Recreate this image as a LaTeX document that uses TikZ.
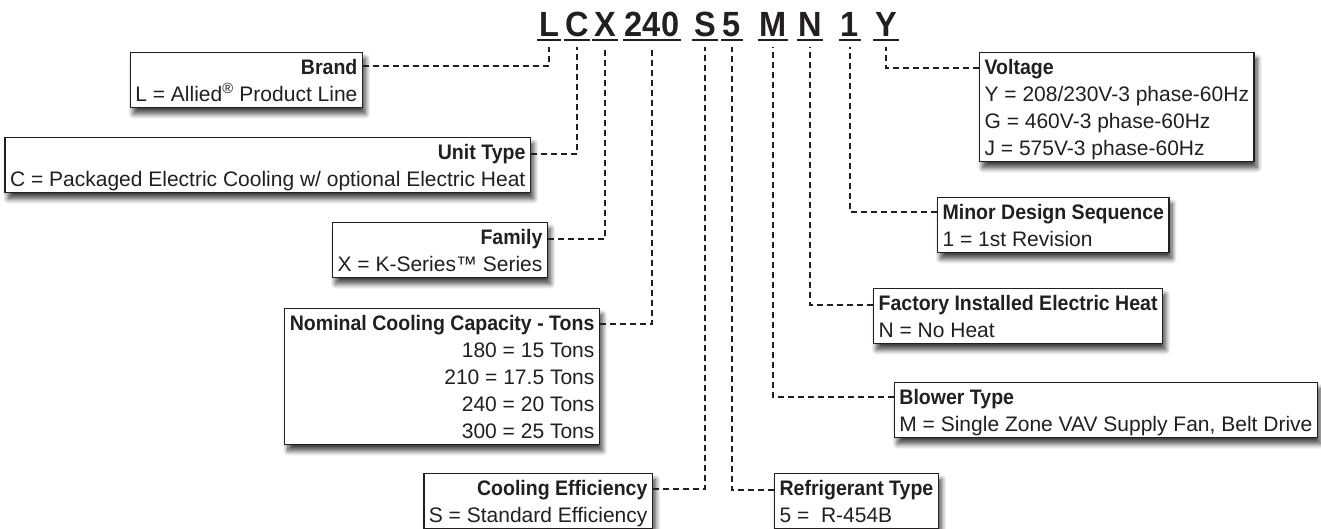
\documentclass[tikz,border=0pt]{standalone}
\usepackage{fontspec}
\setmainfont{Liberation Sans}
\newfontfamily\headfont{Liberation Sans}[FakeStretch=0.93]
\usetikzlibrary{shadows.blur}
\definecolor{ink}{HTML}{231F20}
\newcommand{\ttl}[1]{{\headfont\bfseries #1}}
\newcommand{\lastln}[1]{\raisebox{0pt}[\height][0pt]{#1}}

\begin{document}
\begin{tikzpicture}[x=1pt, y=-1pt,
    code/.style={font=\headfont\bfseries\fontsize{35}{35}\selectfont, text=ink, anchor=base, inner xsep=1.5pt},
    uline/.style={ink, line width=2pt},
    spec/.style={draw=ink, line width=1.2pt, fill=white, text=ink, font=\fontsize{21}{27}\selectfont,
        inner xsep=5pt, inner ysep=6.5pt,
        blur shadow={shadow xshift=3pt, shadow yshift=-6pt, shadow blur steps=10, shadow blur radius=5pt, shadow opacity=75}},
    specL/.style={spec, align=right, anchor=north east},
    specR/.style={spec, align=left, anchor=north west},
    lead/.style={ink, line width=1.8pt, dash pattern=on 6pt off 4pt}]
    \useasboundingbox (0,0) rectangle (1321,529);

    % model number
    \foreach \ch/\xx in {L/549, C/577, X/605, 240/652, S/705, 5/732, M/773, N/810, 1/850, Y/886} {
        \node[code] (c\ch) at (\xx,37) {\ch};
        \draw[uline] ([yshift=-3pt]c\ch.base west) -- ([yshift=-3pt]c\ch.base east);
    }

    % left side
    \node[specL] (brand) at (363,52) {\ttl{Brand}\\ \lastln{L = Allied\textsuperscript{®} Product Line}};
    \node[specL] (unit) at (531,137) {\ttl{Unit Type}\\ \lastln{C = Packaged Electric Cooling w/ optional Electric Heat}};
    \node[specL] (family) at (548,222) {\ttl{Family}\\ \lastln{X = K-Series™ Series}};
    \node[specL] (capacity) at (600,308) {\ttl{Nominal Cooling Capacity - Tons}\\ 180 = 15 Tons\\ 210 = 17.5 Tons\\ 240 = 20 Tons\\ \lastln{300 = 25 Tons}};
    \node[specL] (efficiency) at (653,473) {\ttl{Cooling Efficiency}\\ \lastln{S = Standard Efficiency}};

    % right side
    \node[specR] (refrigerant) at (774,473) {\ttl{Refrigerant Type}\\ \lastln{5 =\ \ R-454B}};
    \node[spec, align=left, anchor=north east] (blower) at (1318,382) {\ttl{Blower Type}\\ \lastln{M = Single Zone VAV Supply Fan, Belt Drive}};
    \node[specR] (heat) at (873,288) {\ttl{Factory Installed Electric Heat}\\ \lastln{N = No Heat}};
    \node[specR] (minor) at (937,197) {\ttl{Minor Design Sequence}\\ \lastln{1 = 1st Revision}};
    \node[specR] (voltage) at (979,52) {\ttl{Voltage}\\ Y = 208/230V-3 phase-60Hz\\ G = 460V-3 phase-60Hz\\ \lastln{J = 575V-3 phase-60Hz}};

    % leaders
    \draw[lead] ([yshift=-14pt]brand.north east) -| ([yshift=-10pt]cL.base);
    \draw[lead] ([yshift=-17pt]unit.north east) -| ([yshift=-10pt]cC.base);
    \draw[lead] ([yshift=-17pt]family.north east) -| ([yshift=-10pt]cX.base);
    \draw[lead] ([yshift=-16pt]capacity.north east) -| ([yshift=-10pt]c240.base);
    \draw[lead] ([yshift=-16pt]efficiency.north east) -| ([yshift=-10pt]cS.base);
    \draw[lead] ([yshift=-17pt]refrigerant.north west) -| ([yshift=-10pt]c5.base);
    \draw[lead] ([yshift=-15pt]blower.north west) -| ([yshift=-10pt]cM.base);
    \draw[lead] ([yshift=-17pt]heat.north west) -| ([yshift=-10pt]cN.base);
    \draw[lead] ([yshift=-15pt]minor.north west) -| ([yshift=-10pt]c1.base);
    \draw[lead] ([yshift=-16pt]voltage.north west) -| ([yshift=-10pt]cY.base);
\end{tikzpicture}
\end{document}
